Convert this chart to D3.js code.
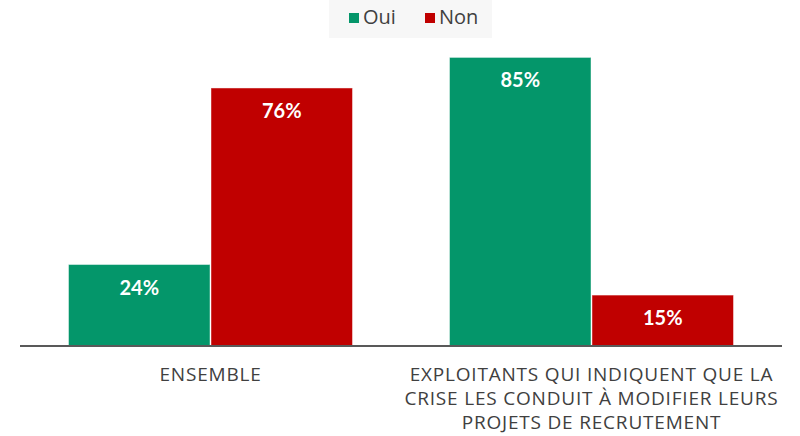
<!DOCTYPE html>
<html>
<head>
<meta charset="utf-8">
<script src="https://cdn.jsdelivr.net/npm/d3@7"></script>
<style>
  body { margin: 0; background: #fff; }
  svg { display: block; font-family: "Lato", "DejaVu Sans", sans-serif; }
</style>
</head>
<body>
<div id="chart"></div>
<script>
// ── Données ─────────────────────────────────────────────────────────────
const categories = [
  ['ENSEMBLE'],
  ['EXPLOITANTS QUI INDIQUENT QUE LA', 'CRISE LES CONDUIT À MODIFIER LEURS', 'PROJETS DE RECRUTEMENT']
];
const series = ['Oui', 'Non'];
const oui = [24, 85];
const non = [76, 15];
const colors = ['#04966a', '#c00000'];

const W = 800, H = 436;
const plot = { left: 20, right: 782, top: 30, bottom: 346 };

const svg = d3.select('#chart').append('svg')
  .attr('width', W).attr('height', H);

// ── Échelles ────────────────────────────────────────────────────────────
const x0 = d3.scaleBand()
  .domain(d3.range(categories.length))
  .range([plot.left, plot.right])
  .paddingInner(0.252)
  .paddingOuter(0.126);

const x1 = d3.scaleBand()
  .domain(series)
  .range([0, x0.bandwidth()]);

// 76% → y=88 : ~3.395 px par point
const y = d3.scaleLinear()
  .domain([0, 100])
  .range([plot.bottom, plot.bottom - 339.5]);

const rows = categories.map((c, i) => ({ i, values: [oui[i], non[i]] }));

// ── Barres ──────────────────────────────────────────────────────────────
const g = svg.append('g');
const grp = g.selectAll('g.grp')
  .data(rows)
  .join('g')
  .attr('class', 'grp')
  .attr('transform', d => `translate(${x0(d.i)},0)`);

grp.selectAll('rect')
  .data(d => d.values.map((v, k) => ({ v, s: series[k], k })))
  .join('rect')
  .attr('x', d => x1(d.s) + 0.5)
  .attr('width', x1.bandwidth() - 1)
  .attr('y', d => y(d.v))
  .attr('height', d => y(0) - y(d.v))
  .attr('fill', d => colors[d.k])
  .attr('stroke', 'rgba(255,255,255,0.45)')
  .attr('stroke-width', 1);

grp.selectAll('text.val')
  .data(d => d.values.map((v, k) => ({ v, s: series[k], k })))
  .join('text')
  .attr('class', 'val')
  .attr('x', d => x1(d.s) + x1.bandwidth() / 2)
  .attr('y', d => y(d.v) + 30)
  .attr('text-anchor', 'middle')
  .style('font-size', '20px')
  .style('font-weight', '700')
  .style('fill', '#fff')
  .text(d => d.v + '%');

// ── Axe ─────────────────────────────────────────────────────────────────
svg.append('line')
  .attr('x1', plot.left).attr('x2', plot.right)
  .attr('y1', plot.bottom).attr('y2', plot.bottom)
  .attr('stroke', '#595959')
  .attr('stroke-width', 2);

const lab = svg.append('g').selectAll('text')
  .data(categories)
  .join('text')
  .attr('x', (d, i) => x0(i) + x0.bandwidth() / 2)
  .attr('y', 381)
  .attr('text-anchor', 'middle')
  .style('font-family', '"Open Sans", sans-serif')
  .style('font-size', '19px')
  .style('letter-spacing', '0.8px')
  .style('fill', '#404040');

lab.selectAll('tspan')
  .data(d => d)
  .join('tspan')
  .attr('x', function () { return this.parentNode.getAttribute('x'); })
  .attr('dy', (d, i) => i === 0 ? 0 : 24)
  .text(d => d);

// ── Légende ─────────────────────────────────────────────────────────────
const leg = svg.append('g');
leg.append('rect')
  .attr('x', 329).attr('y', 0)
  .attr('width', 163).attr('height', 38)
  .attr('fill', '#f7f7f7');

const legX = [349, 425];
const item = leg.selectAll('g')
  .data(series)
  .join('g')
  .attr('transform', (d, i) => `translate(${legX[i]},13)`);
item.append('rect')
  .attr('width', 10).attr('height', 10)
  .attr('fill', (d, i) => colors[i]);
item.append('text')
  .attr('x', 14).attr('y', 11)
  .style('font-family', '"Open Sans", sans-serif')
  .style('font-size', '20px')
  .style('fill', '#404040')
  .text(d => d);
</script>
</body>
</html>
